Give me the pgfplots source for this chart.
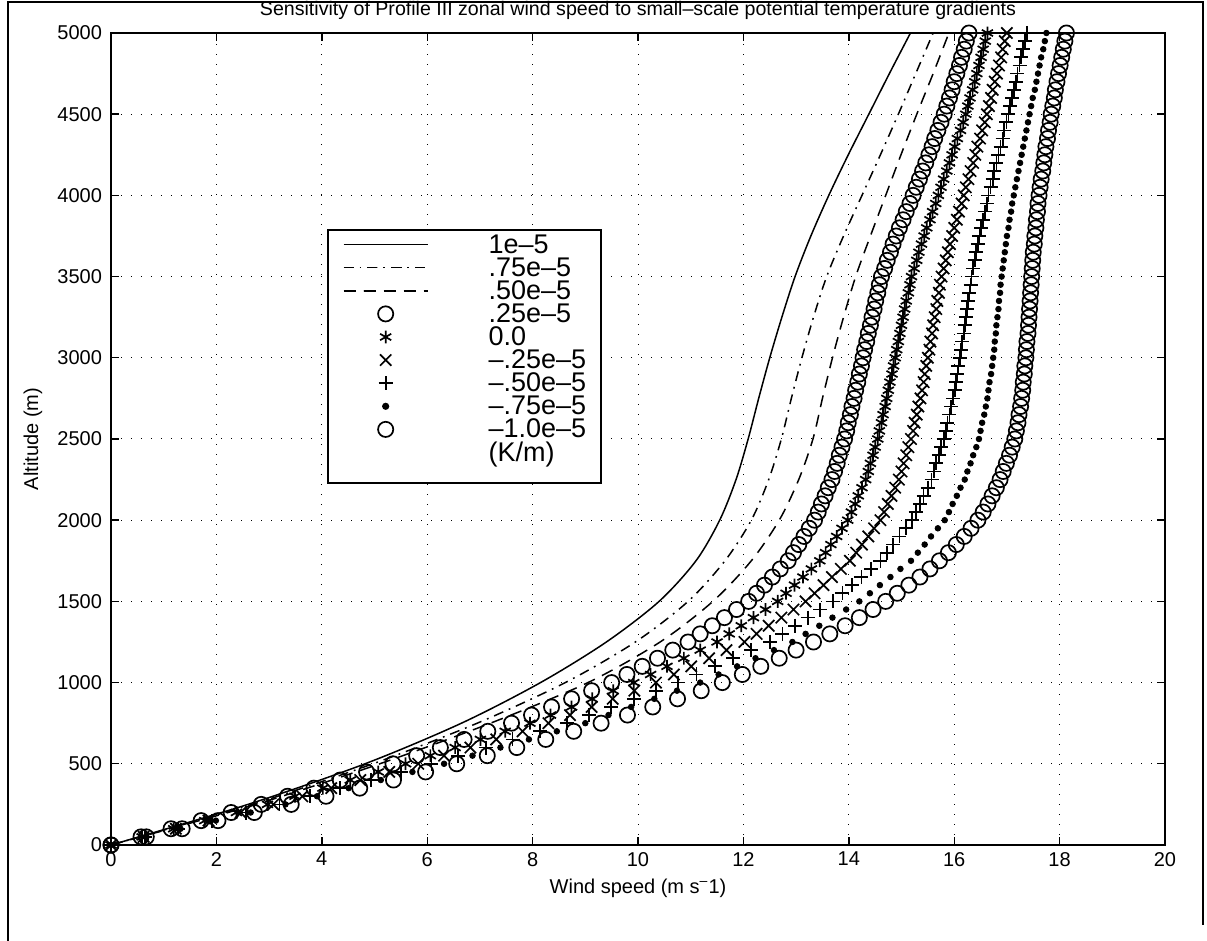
\documentclass[border=0pt]{standalone}
\usepackage{pgfplots}
\pgfplotsset{compat=1.18}
\usepackage{pgfplotstable}
\usepackage{fontspec}
\setmainfont{Liberation Sans}

\pgfplotstableread{
alt circ ast xm plus dot circb
0 0 0 0 0 0 0
50 .57 .59 .62 .64 .66 .67
100 1.14 1.19 1.23 1.28 1.32 1.35
150 1.71 1.78 1.85 1.92 1.99 2.03
200 2.28 2.38 2.46 2.56 2.65 2.72
250 2.85 2.97 3.08 3.2 3.31 3.42
300 3.35 3.49 3.63 3.78 3.91 4.08
350 3.85 4.02 4.18 4.35 4.51 4.72
400 4.35 4.54 4.73 4.93 5.12 5.36
450 4.85 5.07 5.28 5.5 5.72 5.97
500 5.35 5.59 5.83 6.08 6.32 6.56
550 5.8 6.06 6.32 6.59 6.86 7.14
600 6.25 6.53 6.82 7.11 7.39 7.7
650 6.7 7.01 7.31 7.62 7.93 8.25
700 7.15 7.48 7.81 8.14 8.46 8.78
750 7.6 7.95 8.3 8.65 9.0 9.3
800 7.98 8.34 8.71 9.07 9.44 9.8
850 8.36 8.74 9.12 9.49 9.87 10.28
900 8.74 9.13 9.52 9.92 10.31 10.75
950 9.12 9.53 9.93 10.34 10.74 11.2
1000 9.5 9.92 10.34 10.76 11.18 11.6
1050 9.79 10.24 10.68 11.11 11.53 11.98
1100 10.08 10.55 11.01 11.46 11.88 12.33
1150 10.37 10.87 11.35 11.8 12.23 12.68
1200 10.66 11.18 11.68 12.15 12.58 13.0
1250 10.95 11.5 12.02 12.5 12.93 13.33
1300 11.18 11.73 12.25 12.74 13.18 13.64
1350 11.41 11.96 12.48 12.98 13.44 13.93
1400 11.64 12.19 12.72 13.22 13.69 14.2
1450 11.87 12.42 12.95 13.46 13.95 14.46
1500 12.1 12.65 13.18 13.7 14.2 14.7
1550 12.25 12.81 13.35 13.88 14.4 14.92
1600 12.4 12.97 13.52 14.06 14.59 15.14
1650 12.55 13.13 13.68 14.24 14.79 15.35
1700 12.7 13.29 13.85 14.42 14.98 15.54
1750 12.85 13.45 14.02 14.6 15.18 15.72
1800 12.95 13.56 14.14 14.72 15.31 15.89
1850 13.05 13.66 14.25 14.84 15.44 16.04
1900 13.15 13.77 14.37 14.96 15.56 16.19
1950 13.25 13.87 14.48 15.08 15.69 16.32
2000 13.35 13.98 14.6 15.2 15.82 16.45
2050 13.42 14.05 14.67 15.27 15.9 16.55
2100 13.48 14.12 14.74 15.35 15.97 16.64
2150 13.55 14.18 14.81 15.42 16.05 16.72
2200 13.61 14.25 14.88 15.5 16.12 16.8
2250 13.68 14.32 14.95 15.57 16.2 16.87
2300 13.73 14.37 15.0 15.62 16.25 16.93
2350 13.78 14.41 15.04 15.66 16.31 16.99
2400 13.82 14.46 15.09 15.71 16.36 17.05
2450 13.87 14.5 15.13 15.75 16.42 17.1
2500 13.92 14.55 15.18 15.8 16.47 17.15
2550 13.96 14.58 15.22 15.84 16.5 17.18
2600 13.99 14.62 15.25 15.87 16.53 17.21
2650 14.03 14.65 15.29 15.91 16.57 17.23
2700 14.06 14.69 15.32 15.94 16.6 17.26
2750 14.1 14.72 15.36 15.98 16.63 17.28
2800 14.13 14.75 15.39 16.01 16.65 17.3
2850 14.17 14.78 15.42 16.03 16.67 17.31
2900 14.2 14.82 15.44 16.06 16.7 17.33
2950 14.24 14.85 15.47 16.08 16.72 17.34
3000 14.27 14.88 15.5 16.11 16.74 17.36
3050 14.3 14.91 15.53 16.13 16.76 17.37
3100 14.34 14.94 15.55 16.15 16.77 17.38
3150 14.37 14.97 15.58 16.18 16.79 17.4
3200 14.41 15.0 15.6 16.2 16.8 17.41
3250 14.44 15.03 15.63 16.22 16.82 17.42
3300 14.48 15.06 15.66 16.24 16.84 17.43
3350 14.51 15.09 15.68 16.26 16.85 17.44
3400 14.55 15.13 15.71 16.29 16.87 17.45
3450 14.58 15.16 15.73 16.31 16.88 17.46
3500 14.62 15.19 15.76 16.33 16.9 17.47
3550 14.68 15.24 15.8 16.36 16.92 17.48
3600 14.73 15.29 15.84 16.39 16.94 17.49
3650 14.79 15.33 15.88 16.42 16.96 17.5
3700 14.84 15.38 15.92 16.45 16.98 17.52
3750 14.9 15.43 15.96 16.48 17.0 17.53
3800 14.96 15.48 16.0 16.51 17.03 17.55
3850 15.03 15.54 16.05 16.55 17.05 17.56
3900 15.09 15.59 16.09 16.58 17.08 17.58
3950 15.16 15.65 16.14 16.62 17.1 17.59
4000 15.22 15.7 16.18 16.65 17.13 17.61
4050 15.28 15.75 16.22 16.69 17.16 17.63
4100 15.34 15.8 16.27 16.73 17.19 17.65
4150 15.4 15.86 16.31 16.76 17.22 17.68
4200 15.46 15.91 16.36 16.8 17.25 17.7
4250 15.52 15.96 16.4 16.84 17.28 17.72
4300 15.58 16.01 16.44 16.88 17.31 17.74
4350 15.63 16.06 16.49 16.92 17.34 17.77
4400 15.69 16.12 16.53 16.95 17.37 17.79
4450 15.75 16.17 16.58 16.99 17.4 17.82
4500 15.81 16.22 16.62 17.03 17.43 17.84
4550 15.86 16.26 16.66 17.06 17.46 17.87
4600 15.91 16.3 16.7 17.1 17.49 17.9
4650 15.96 16.35 16.73 17.13 17.53 17.92
4700 16.0 16.39 16.77 17.17 17.56 17.95
4750 16.05 16.43 16.81 17.2 17.59 17.98
4800 16.1 16.47 16.85 17.24 17.62 18.01
4850 16.14 16.51 16.89 17.27 17.65 18.04
4900 16.19 16.55 16.92 17.31 17.69 18.07
4950 16.23 16.59 16.96 17.34 17.72 18.1
5000 16.28 16.63 17.0 17.38 17.75 18.13
}\markdata

\pgfplotstableread{
alt solid dashdot dashed
0 0 0 0
250 2.6 2.68 2.75
500 4.82 4.97 5.1
750 6.65 6.95 7.2
1000 8.15 8.62 9.05
1250 9.4 9.95 10.42
1500 10.4 10.95 11.42
1750 11.1 11.65 12.15
2000 11.55 12.15 12.68
2250 11.86 12.48 13.05
2500 12.09 12.72 13.32
2750 12.29 12.91 13.5
3000 12.5 13.11 13.69
3250 12.73 13.33 13.9
3500 12.98 13.58 14.13
3750 13.28 13.9 14.41
4000 13.62 14.25 14.7
4250 13.99 14.6 14.99
4500 14.38 14.94 15.29
4750 14.77 15.27 15.6
5000 15.17 15.6 15.9
}\linedata

\pgfplotsset{myleg/.style={legend image code/.code={\path (0pt,0pt) (72pt,0pt); \draw[mark repeat=2,mark phase=2,##1] plot coordinates {(0pt,0pt) (21pt,0pt) (42pt,0pt)};}}}
\newcommand\LE[1]{\rule[-2.25pt]{0pt}{12.3pt}#1}

\begin{document}
\begin{tikzpicture}[x=1pt,y=1pt]
\useasboundingbox (0,0) rectangle (603.5,470.5);
\draw[line width=1pt] (4,0) -- (4,469.5) -- (601.5,469.5) -- (601.5,8);
\begin{axis}[
  at={(55.5pt,48pt)}, anchor=south west,
  scale only axis, width=527pt, height=406pt,
  xmin=0, xmax=20, ymin=0, ymax=5000,
  xtick={0,2,...,20}, ytick={0,500,...,5000},
  grid=major,
  grid style={black, line width=0.5pt, dash pattern=on 0.7pt off 4.3pt},
  tick align=inside, tick pos=both, major tick length=4pt,
  axis line style={line width=0.75pt},
  every tick/.style={black, line width=0.7pt},
  /pgf/number format/assume math mode=true,
  /pgf/number format/1000 sep={},
  tick label style={font=\fontsize{10}{11}\selectfont},
  yticklabel style={xshift=-1pt},
  title={Sensitivity of Profile III zonal wind speed to small–scale potential temperature gradients},
  title style={font=\fontsize{9.8}{11}\selectfont, at={(axis description cs:0.5,1.013)}, anchor=center},
  xlabel={Wind speed (m s\textsuperscript{–}1)},
  ylabel={Altitude (m)},
  label style={font=\fontsize{10}{11}\selectfont},
  xlabel style={at={(axis description cs:0.5,-0.053)}, anchor=center},
  ylabel style={at={(axis description cs:-0.074,0.5)}, anchor=center},
  clip=false,
  legend style={at={(rel axis cs:0.205,0.758)}, anchor=north west, draw=black, line width=0.75pt,
    font=\fontsize{13.5}{15}\selectfont, cells={anchor=west}, inner xsep=7.5pt, inner ysep=1.4pt,
    nodes={inner sep=0pt}},
]
\addplot[black, line width=0.75pt, smooth, myleg] table[x=solid, y=alt] {\linedata};
\addlegendentry{\LE{1e–5}}
\addplot[black, line width=0.75pt, smooth, dash pattern=on 5pt off 3pt on 0.9pt off 3pt, myleg] table[x=dashdot, y=alt] {\linedata};
\addlegendentry{\LE{.75e–5}}
\addplot[black, line width=0.75pt, smooth, dash pattern=on 6pt off 4pt, myleg] table[x=dashed, y=alt] {\linedata};
\addlegendentry{\LE{.50e–5}}
\addplot[black, only marks, mark=o, mark size=3.8pt, line width=0.85pt, myleg] table[x=circ, y=alt] {\markdata};
\addlegendentry{\LE{.25e–5}}
\addplot[black, only marks, mark=asterisk, mark size=3.2pt, line width=0.85pt, myleg] table[x=ast, y=alt] {\markdata};
\addlegendentry{\LE{0.0}}
\addplot[black, only marks, mark=x, mark size=4pt, line width=0.85pt, myleg] table[x=xm, y=alt] {\markdata};
\addlegendentry{\LE{–.25e–5}}
\addplot[black, only marks, mark=+, mark size=3.5pt, line width=0.85pt, myleg] table[x=plus, y=alt] {\markdata};
\addlegendentry{\LE{–.50e–5}}
\addplot[black, only marks, mark=*, mark size=1.4pt, myleg] table[x=dot, y=alt] {\markdata};
\addlegendentry{\LE{–.75e–5}}
\addplot[black, only marks, mark=o, mark size=3.8pt, line width=0.85pt, myleg] table[x=circb, y=alt] {\markdata};
\addlegendentry{\LE{–1.0e–5}}
\addlegendimage{empty legend}
\addlegendentry{\LE{(K/m)}}
\addlegendimage{empty legend}
\addlegendentry{\rule{0pt}{6.5pt}}
\end{axis}
\end{tikzpicture}
\end{document}
